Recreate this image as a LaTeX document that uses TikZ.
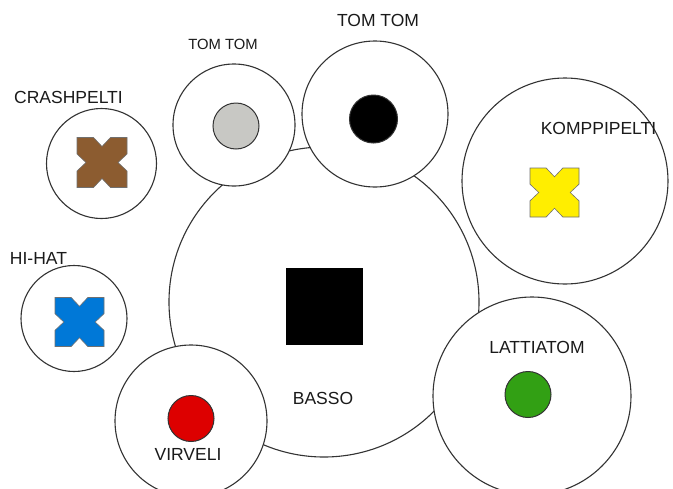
\documentclass[tikz,border=0pt]{standalone}
\usepackage{fontspec}
\setmainfont{Liberation Sans}
\definecolor{linec}{HTML}{333333}
\definecolor{txtc}{HTML}{1A1A1A}
\definecolor{xbrown}{HTML}{8C5C30}
\definecolor{xblue}{HTML}{0078D7}
\definecolor{xyellow}{HTML}{FFEE00}
\definecolor{xred}{HTML}{DD0000}
\definecolor{xgreen}{HTML}{32A014}
\definecolor{xgray}{HTML}{C8C8C4}
\begin{document}
\begin{tikzpicture}[x=1pt,y=-1pt,
  drum/.style={circle,draw=linec,fill=white,line width=1.1pt,inner sep=0pt},
  dot/.style={circle,draw=linec,line width=1pt,inner sep=0pt,minimum size=46pt},
  lbl/.style={inner sep=0pt,text=txtc,font=\fontsize{17.5}{20}\selectfont},
  lblsmall/.style={inner sep=0pt,text=txtc,font=\fontsize{14.8}{17}\selectfont},
  xcross/.pic={
    \path[pic actions] (-0.5,-0.5) -- (-0.17,-0.5) -- (0,-0.32) -- (0.17,-0.5) -- (0.5,-0.5)
      -- (0.5,-0.17) -- (0.32,0) -- (0.5,0.17) -- (0.5,0.5) -- (0.17,0.5) -- (0,0.32)
      -- (-0.17,0.5) -- (-0.5,0.5) -- (-0.5,0.17) -- (-0.32,0) -- (-0.5,-0.17) -- cycle;
  }]
\useasboundingbox (0,0) rectangle (673,488);
\fill[white] (0,0) rectangle (673,488);
% drums
\node[drum,minimum size=310pt] (basso) at (324,302) {};
\node[drum,minimum size=122pt] (tomS) at (234,125) {};
\node[drum,minimum size=146pt] (tomB) at (375,114) {};
\node[drum,minimum size=206pt] (kompp) at (565,181) {};
\node[drum,minimum size=110pt] (crash) at (101.5,163.5) {};
\node[drum,minimum size=106pt] (hihat) at (74,318.5) {};
\node[drum,minimum size=152pt] (virveli) at (191,421) {};
\node[drum,minimum size=198pt] (lattia) at (532,396) {};
% inner marks
\node[draw=none,fill=black,minimum size=77pt,inner sep=0pt] (bassoMark) at (324.5,306.5) {};
\node[dot,fill=xgray] (tomSMark) at (236,126) {};
\node[dot,fill=black,minimum size=48pt] (tomBMark) at (373.5,119) {};
\node[dot,fill=xred] (virveliMark) at (191,418.5) {};
\node[dot,fill=xgreen] (lattiaMark) at (528,394.5) {};
\pic[fill=xbrown,draw=linec!70,line width=0.6pt,scale=50] (crashMark) at (102,162.5) {xcross};
\pic[fill=xblue,draw=linec!70,line width=0.6pt,scale=49] (hihatMark) at (79.5,322) {xcross};
\pic[fill=xyellow,draw=linec!70,line width=0.6pt,scale=49] (komppMark) at (554.5,192.5) {xcross};
% labels
\node[lblsmall] (tomSL) at (223,44) {TOM TOM};
\node[lbl] (tomBL) at (378,20) {TOM TOM};
\node[lbl] (komppL) at (598.5,128) {KOMPPIPELTI};
\node[lbl] (crashL) at (68.5,97) {CRASHPELTI};
\node[lbl] (hihatL) at (38.5,258) {HI-HAT};
\node[lbl] (virveliL) at (188,454) {VIRVELI};
\node[lbl] (lattiaL) at (537,347) {LATTIATOM};
\node[lbl] (bassoL) at (323,398) {BASSO};
\end{tikzpicture}
\end{document}
